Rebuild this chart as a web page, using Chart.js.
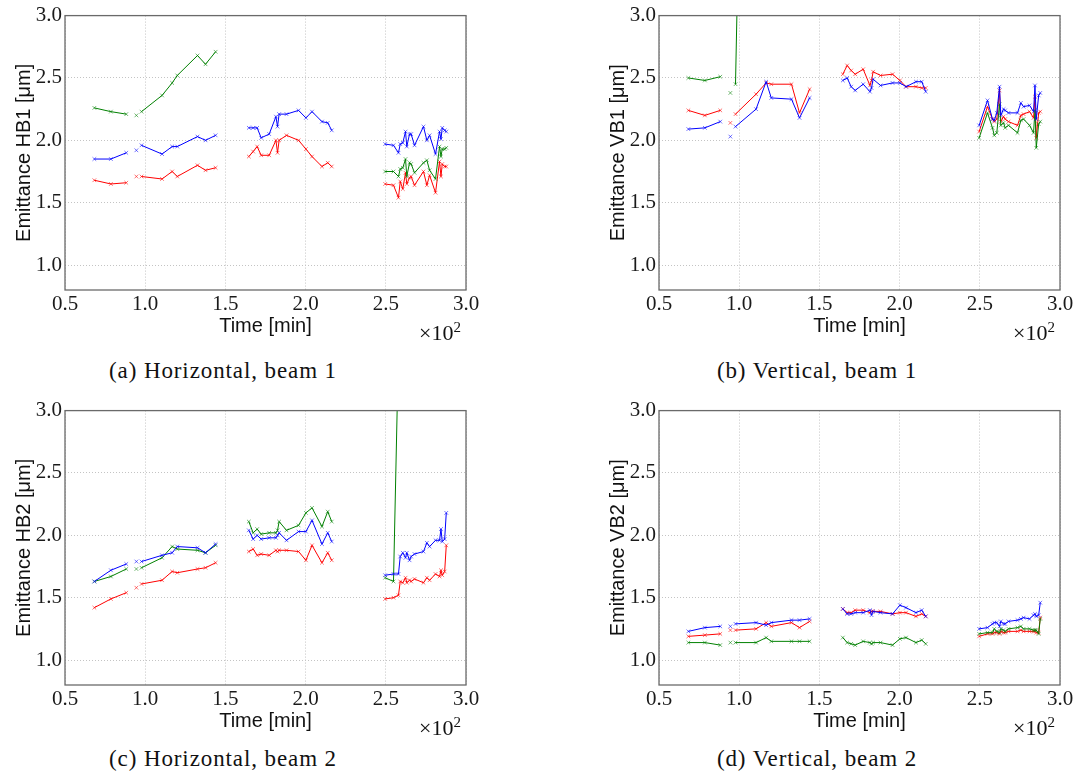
<!DOCTYPE html>
<html>
<head>
<meta charset="utf-8">
<script src="https://cdn.jsdelivr.net/npm/chart.js@4.4.1/dist/chart.umd.min.js"></script>
<style>
  body { margin: 0; background: #fff; }
  #page { position: relative; width: 1080px; height: 782px; overflow: hidden; }
  canvas { position: absolute; }
  .cap {
    position: absolute; width: 446px; text-align: center;
    font-family: "Liberation Serif", serif; font-size: 23px; line-height: 26px;
    letter-spacing: 0.9px; color: #111; white-space: nowrap;
  }
</style>
</head>
<body>
<div id="page">
  <canvas id="hb1" width="490" height="345" style="left:0;top:0"></canvas>
  <canvas id="vb1" width="490" height="345" style="left:594px;top:0"></canvas>
  <canvas id="hb2" width="490" height="345" style="left:0;top:395px"></canvas>
  <canvas id="vb2" width="490" height="345" style="left:594px;top:395px"></canvas>
  <div class="cap" style="left:0;top:358px">(a) Horizontal, beam 1</div>
  <div class="cap" style="left:594px;top:358px">(b) Vertical, beam 1</div>
  <div class="cap" style="left:0;top:746px">(c) Horizontal, beam 2</div>
  <div class="cap" style="left:594px;top:746px">(d) Vertical, beam 2</div>
</div>
<script>
// measurement times [min]; runs start at the indices in runStarts
const timeMin = [68.3, 78.6, 88.2,
  94.5,
  97.7, 110.5, 116.8, 120.0, 132.6, 137.6, 143.9,
  164.6, 167.3, 169.8, 172.3, 177.3, 181.5, 182.5, 183.5, 188.1, 195.6, 200.2, 204.0, 210.2, 213.8, 216.3,
  249.6, 254.8, 257.9, 259.0, 260.6, 262.3, 263.1, 264.8, 265.8, 267.9, 273.5, 275.6, 277.3, 281.0, 283.5, 284.4, 285.2, 286.7, 287.7];
const runStarts = [3, 4, 11, 26];

const xTicks = [50, 100, 150, 200, 250, 300];
const yTicks = [1.0, 1.5, 2.0, 2.5, 3.0];

const NA = null;

// HB1
const hb1Red = [1.68, 1.65, 1.66, 1.71, 1.71, 1.69, 1.75, 1.71, 1.80, 1.76, 1.78,
  1.87, 1.91, 1.95, 1.88, 1.88, 2.00, 1.90, 2.00, 2.04, 2.00, 1.93, 1.87, 1.79, 1.82, 1.79,
  1.65, 1.64, 1.54, 1.67, 1.61, 1.74, 1.65, 1.70, 1.71, 1.64, 1.75, 1.64, 1.72, 1.58, 1.83, 1.71, 1.81, 1.79, 1.79];
const hb1Green = [2.26, 2.23, 2.21, 2.20, 2.23, 2.36, 2.46, 2.52, 2.68, 2.61, 2.71,
  NA, NA, NA, NA, NA, NA, NA, NA, NA, NA, NA, NA, NA, NA, NA,
  1.75, 1.75, 1.71, 1.77, 1.78, 1.85, 1.71, 1.82, 1.81, 1.74, 1.82, 1.84, 1.76, 1.69, 1.95, 1.87, 1.93, 1.93, 1.94];
const hb1Blue = [1.85, 1.85, 1.90, 1.92, 1.96, 1.89, 1.95, 1.95, 2.03, 2.00, 2.04,
  2.10, 2.10, 2.10, 2.02, 2.05, 2.19, 2.11, 2.21, 2.21, 2.24, 2.18, 2.23, 2.15, 2.14, 2.08,
  1.97, 1.96, 1.90, 1.97, 1.98, 2.07, 1.95, 2.05, 2.05, 1.96, 2.11, 2.00, 2.04, 1.89, 2.07, 2.01, 2.10, 2.08, 2.07];

// VB1
const vb1Red = [2.24, 2.20, 2.24, 2.14, 2.21, 2.37, 2.46, 2.45, 2.45, 2.22, 2.41,
  2.53, 2.60, 2.56, 2.53, 2.57, 2.44, 2.48, 2.55, 2.52, 2.53, 2.48, 2.43, 2.43, 2.42, 2.42,
  2.07, 2.27, 2.17, 2.15, 2.17, 2.40, 2.15, 2.19, 2.17, 2.15, 2.12, 2.20, 2.21, 2.23, 2.18, 2.35, 2.02, 2.22, 2.23];
const vb1Green = [2.50, 2.48, 2.51, 2.38, 2.45, 10.7, NA, NA, NA, NA, NA,
  NA, NA, NA, NA, NA, NA, NA, NA, NA, NA, NA, NA, NA, NA, NA,
  2.02, 2.22, 2.10, 2.04, 2.06, 2.29, 2.12, 2.14, 2.10, 2.12, 2.06, 2.16, 2.17, 2.12, 2.06, 2.24, 1.94, 2.13, 2.15];
const vb1Blue = [2.09, 2.10, 2.15, 2.03, 2.11, 2.25, 2.47, 2.34, 2.33, 2.18, 2.34,
  2.48, 2.50, 2.43, 2.40, 2.45, 2.39, 2.42, 2.49, 2.44, 2.46, 2.46, 2.43, 2.47, 2.47, 2.39,
  2.12, 2.32, 2.17, 2.16, 2.22, 2.43, 2.20, 2.25, 2.24, 2.22, 2.22, 2.30, 2.27, 2.28, 2.23, 2.44, 2.17, 2.36, 2.38];

// HB2
const hb2Red = [1.42, 1.49, 1.54, 1.58, 1.61, 1.64, 1.71, 1.70, 1.73, 1.74, 1.78,
  1.87, 1.89, 1.84, 1.85, 1.84, 1.88, 1.87, 1.88, 1.88, 1.87, 1.80, 1.92, 1.78, 1.86, 1.80,
  1.49, 1.50, 1.52, 1.63, 1.62, 1.66, 1.62, 1.64, 1.63, 1.65, 1.62, 1.66, 1.64, 1.69, 1.67, 1.72, 1.68, 1.71, 1.92];
const hb2Green = [1.63, 1.67, 1.73, 1.73, 1.74, 1.82, 1.91, 1.89, 1.88, 1.86, 1.92,
  2.11, 2.02, 2.05, 2.01, 2.02, 2.02, 2.04, 2.11, 2.04, 2.08, 2.18, 2.22, 2.07, 2.19, 2.11,
  1.66, 1.63, 3.5, NA, NA, NA, NA, NA, NA, NA, NA, NA, NA, NA, NA, NA, NA, NA, NA];
const hb2Blue = [1.63, 1.72, 1.77, 1.79, 1.79, 1.84, 1.86, 1.91, 1.90, 1.86, 1.93,
  2.04, 1.97, 2.00, 1.97, 1.98, 1.98, 2.00, 2.02, 1.96, 2.03, 2.03, 2.12, 1.93, 2.02, 1.95,
  1.68, 1.69, 1.69, 1.83, 1.86, 1.82, 1.86, 1.80, 1.83, 1.85, 1.87, 1.94, 1.91, 1.96, 1.96, 2.05, 1.95, 1.97, 2.18];

// VB2
const vb2Red = [1.19, 1.20, 1.21, 1.24, 1.24, 1.25, 1.30, 1.27, 1.30, 1.26, 1.31,
  1.41, 1.38, 1.38, 1.40, 1.40, 1.38, 1.39, 1.39, 1.39, 1.37, 1.38, 1.38, 1.35, 1.37, 1.35,
  1.19, 1.21, 1.21, 1.22, 1.22, 1.21, 1.23, 1.22, 1.22, 1.23, 1.23, 1.24, 1.23, 1.23, 1.23, 1.23, 1.22, 1.22, 1.34];
const vb2Green = [1.14, 1.14, 1.12, 1.14, 1.14, 1.14, 1.18, 1.15, 1.15, 1.15, 1.15,
  1.18, 1.14, 1.13, 1.12, 1.15, 1.14, 1.13, 1.14, 1.14, 1.12, 1.17, 1.18, 1.14, 1.16, 1.13,
  1.21, 1.22, 1.22, 1.25, 1.23, 1.22, 1.25, 1.24, 1.23, 1.25, 1.26, 1.27, 1.25, 1.25, 1.24, 1.24, 1.24, 1.21, 1.33];
const vb2Blue = [1.23, 1.26, 1.27, 1.27, 1.29, 1.30, 1.28, 1.30, 1.32, 1.32, 1.33,
  1.41, 1.37, 1.37, 1.38, 1.38, 1.40, 1.36, 1.39, 1.38, 1.37, 1.44, 1.42, 1.38, 1.40, 1.35,
  1.25, 1.26, 1.29, 1.30, 1.30, 1.27, 1.31, 1.29, 1.29, 1.31, 1.32, 1.33, 1.34, 1.33, 1.36, 1.37, 1.35, 1.36, 1.46];

// insert a null point before each run so the line breaks between runs
function toPoints(vals) {
  const pts = [];
  vals.forEach((v, i) => {
    if (runStarts.includes(i)) pts.push({ x: timeMin[i] - 0.5, y: null });
    pts.push({ x: timeMin[i], y: v });
  });
  return pts;
}

function line(vals, color, markColor) {
  return {
    data: toPoints(vals),
    borderColor: color,
    borderWidth: 1,
    pointStyle: 'crossRot',
    pointRadius: 2.6,
    pointBorderWidth: 1,
    pointBorderColor: markColor,
    pointBackgroundColor: 'transparent',
    fill: false,
    tension: 0
  };
}

const frame = {
  id: 'frame',
  afterDraw(chart) {
    const { ctx, chartArea: a } = chart;
    ctx.save();
    ctx.strokeStyle = '#6a6a6a';
    ctx.lineWidth = 1.3;
    ctx.strokeRect(a.left, a.top, a.right - a.left, a.bottom - a.top);
    // offset multiplier of the time axis
    ctx.fillStyle = '#111';
    ctx.textBaseline = 'alphabetic';
    ctx.textAlign = 'right';
    ctx.font = '15px "Liberation Serif"';
    const x2 = a.right - 5;
    ctx.fillText('2', x2, a.bottom + 42);
    const w2 = ctx.measureText('2').width;
    ctx.font = '22px "Liberation Serif"';
    ctx.fillText('\u00d710', x2 - w2, a.bottom + 50);
    ctx.restore();
  }
};

const tickFont = { family: 'Liberation Serif', size: 21 };
const titleFont = { family: 'Liberation Sans', size: 20 };

function makePanel(id, yLabel, red, green, blue) {
  new Chart(document.getElementById(id), {
    type: 'line',
    data: {
      datasets: [
        line(blue, '#0000ff', 'rgba(0,0,255,0.55)'),
        line(green, '#008000', 'rgba(0,128,0,0.55)'),
        line(red, '#ff0000', 'rgba(255,0,0,0.55)')
      ]
    },
    options: {
      responsive: false,
      animation: false,
      devicePixelRatio: 1,
      layout: { padding: { top: 15, right: 24, left: 0, bottom: 0 } },
      plugins: { legend: { display: false }, tooltip: { enabled: false } },
      scales: {
        x: {
          type: 'linear', min: 50, max: 300,
          afterBuildTicks: s => { s.ticks = xTicks.map(v => ({ value: v })); },
          afterFit: s => { s.height = 55; },
          ticks: {
            callback: v => (v / 100).toFixed(1),
            font: tickFont, color: '#1a1a1a', padding: 2,
            maxRotation: 0, autoSkip: false
          },
          grid: { color: '#c4c4c4', lineWidth: 1, drawTicks: false },
          border: { display: false, dash: [1, 2] },
          title: { display: true, text: 'Time [min]', font: titleFont, color: '#111', padding: { top: 0, bottom: 7 } }
        },
        y: {
          type: 'linear', min: 0.8, max: 3.0,
          afterBuildTicks: s => { s.ticks = yTicks.map(v => ({ value: v })); },
          afterFit: s => { s.width = 65; },
          ticks: {
            callback: v => v.toFixed(1),
            font: tickFont, color: '#1a1a1a', padding: 3, autoSkip: false
          },
          grid: { color: '#c4c4c4', lineWidth: 1, drawTicks: false },
          border: { display: false, dash: [1, 2] },
          title: { display: true, text: yLabel, font: titleFont, color: '#111', padding: { top: 12, bottom: 0 } }
        }
      }
    },
    plugins: [frame]
  });
}

makePanel('hb1', 'Emittance HB1 [\u03bcm]', hb1Red, hb1Green, hb1Blue);
makePanel('vb1', 'Emittance VB1 [\u03bcm]', vb1Red, vb1Green, vb1Blue);
makePanel('hb2', 'Emittance HB2 [\u03bcm]', hb2Red, hb2Green, hb2Blue);
makePanel('vb2', 'Emittance VB2 [\u03bcm]', vb2Red, vb2Green, vb2Blue);
</script>
</body>
</html>
